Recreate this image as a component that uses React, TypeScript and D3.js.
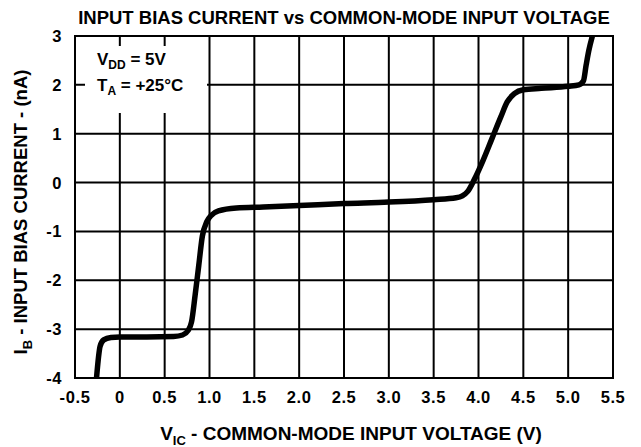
import React from "react";
import * as d3 from "d3";

const voltage = [-0.26,-0.22,-0.18,-0.1,0,0.3,0.6,0.7,0.76,0.8,0.84,0.88,0.92,0.97,1.02,1.1,1.3,1.6,2.0,2.5,3.0,3.5,3.75,3.82,3.88,3.95,4.05,4.15,4.25,4.32,4.4,4.5,4.7,5.0,5.12,5.17,5.2,5.23,5.27];
const current = [-4,-3.35,-3.22,-3.17,-3.16,-3.16,-3.15,-3.12,-3.03,-2.85,-2.3,-1.7,-1.1,-0.8,-0.67,-0.58,-0.52,-0.5,-0.47,-0.43,-0.4,-0.35,-0.31,-0.27,-0.18,0.05,0.45,0.9,1.35,1.65,1.82,1.9,1.93,1.97,2.0,2.08,2.4,2.7,3.0];
const xTicks = [-0.5,0,0.5,1.0,1.5,2.0,2.5,3.0,3.5,4.0,4.5,5.0,5.5];
const xTickLabels = ["-0.5","0","0.5","1.0","1.5","2.0","2.5","3.0","3.5","4.0","4.5","5.0","5.5"];
const yTicks = [-4,-3,-2,-1,0,1,2,3];

export default function App() {
  const W = 641, H = 447;
  const L = 75, R = 613, T = 36, B = 378;
  const x = d3.scaleLinear().domain([-0.5, 5.5]).range([L, R]);
  const y = d3.scaleLinear().domain([-4, 3]).range([B, T]);
  const pts = voltage.map((v, i) => [v, current[i]] as [number, number]);
  const line = d3.line<[number, number]>().x(d => x(d[0])).y(d => y(d[1])).curve(d3.curveMonotoneX);
  const font = "'Liberation Sans', Arial, sans-serif";
  // box behind annotation
  const bx0 = 85, bx1 = 207, by0 = 46, by1 = 113;
  return (
    <svg width={W} height={H} style={{ position: "absolute", left: 0, top: 0, background: "#fff" }} fontFamily={font} fontWeight="bold">
      <defs>
        <clipPath id="plotclip"><rect x={L} y={T} width={R - L} height={B - T} /></clipPath>
      </defs>
      <rect x={0} y={0} width={W} height={H} fill="#fff" />
      {xTicks.slice(1, -1).map(t => (
        <line key={"vx" + t} x1={x(t)} x2={x(t)} y1={T} y2={B} stroke="#000" strokeWidth={2} />
      ))}
      {yTicks.slice(1, -1).map(t => (
        <line key={"hy" + t} x1={L} x2={R} y1={y(t)} y2={y(t)} stroke="#000" strokeWidth={2} />
      ))}
      <rect x={bx0} y={by0} width={bx1 - bx0} height={by1 - by0} fill="#fff" />
      <rect x={L} y={T} width={R - L} height={B - T} fill="none" stroke="#000" strokeWidth={2} />
      <path d={line(pts) || ""} fill="none" stroke="#000" strokeWidth={5.5} strokeLinejoin="round" strokeLinecap="butt" clipPath="url(#plotclip)" />
      <text x={97} y={65} fontSize={17}>V<tspan fontSize={12} dy={4}>DD</tspan><tspan dy={-4}> = 5V</tspan></text>
      <text x={97} y={91} fontSize={17}>T<tspan fontSize={12} dy={4}>A</tspan><tspan dy={-4}> = +25°C</tspan></text>
      {xTicks.map((t, i) => (
        <text key={"xt" + t} x={x(t)} y={403} fontSize={16.5} letterSpacing={0.6} textAnchor="middle">{xTickLabels[i]}</text>
      ))}
      {yTicks.map(t => (
        <text key={"yt" + t} x={62} y={y(t) + 6} fontSize={16.5} letterSpacing={0.6} textAnchor="end">{t}</text>
      ))}
      <text x={344} y={24} fontSize={18.5} textAnchor="middle">INPUT BIAS CURRENT vs COMMON-MODE INPUT VOLTAGE</text>
      <text x={351} y={440} fontSize={19} textAnchor="middle">V<tspan fontSize={13} dy={5}>IC</tspan><tspan dy={-5}> - COMMON-MODE INPUT VOLTAGE (V)</tspan></text>
      <text transform={`translate(27,${212}) rotate(-90)`} fontSize={18.5} textAnchor="middle">I<tspan fontSize={13} dy={5}>B</tspan><tspan dy={-5}> - INPUT BIAS CURRENT - (nA)</tspan></text>
    </svg>
  );
}
